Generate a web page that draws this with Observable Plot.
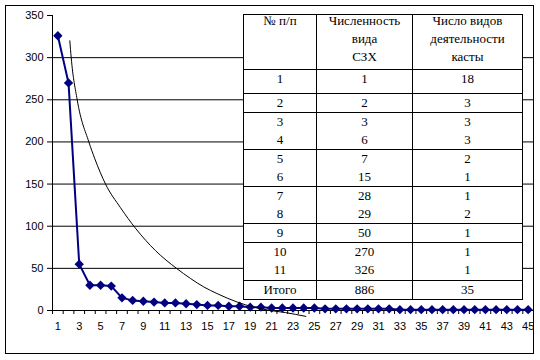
<!DOCTYPE html>
<html>
<head>
<meta charset="utf-8">
<script src="https://cdn.jsdelivr.net/npm/d3@7"></script>
<script src="https://cdn.jsdelivr.net/npm/@observablehq/plot@0.6"></script>
<style>
  html, body { margin: 0; padding: 0; background: white; }
  #wrap { position: absolute; left: 5px; top: 5px; width: 529px; height: 349px; box-sizing: border-box;
          border: 1px solid black; overflow: hidden; background: white; }
  #chart { position: absolute; left: -6px; top: -6px; width: 540px; height: 360px; }
  #chart svg { max-width: none !important; width: 540px; height: 360px; display: block; }
  #tbl { position: absolute; left: 243px; top: 14px; border-collapse: collapse; table-layout: fixed;
         background: white; font-family: "Liberation Serif", "Times New Roman", serif; font-size: 13px; color: black; }
  #tbl td { border: 1px solid black; padding: 0; text-align: center; vertical-align: top; line-height: 18px; }
  #tbl td.hd div { position: relative; top: -3px; }
</style>
</head>
<body>
<div id="wrap"><div id="chart"></div></div>
<table id="tbl"></table>
<script>
// ---- chart data ----
const categories = [1,2,3,4,5,6,7,8,9,10,11,12,13,14,15,16,17,18,19,20,21,22,23,24,25,26,27,28,29,30,31,32,33,34,35,36,37,38,39,40,41,42,43,44,45];
const values = [326,270,55,30,30,29,15,12,11,10,9,9,8,7,6,6,5,5,4,4,3,3,3,3,3,2,2,2,2,2,2,2,1,1,1,1,1,1,1,1,1,1,1,1,1];
const xTickLabels = [1,3,5,7,9,11,13,15,17,19,21,23,25,27,29,31,33,35,37,39,41,43,45];
const yTickLabels = [0,50,100,150,200,250,300,350];
const gridValues = [50,100,150,200,250,300];
// trend curve (category position, value)
const trendX = [2.12,2.25,2.81,3.9,4.46,5.46,6.86,8.3,10.14,12.1,13.41,14.65,15.91,17.78,19.33,20.9,22.3,24.2];
const trendY = [320,300,250,200,180,150,122,97,71,50,38,28,20,10,4,0,-2.5,-7];

// ---- table data ----
const headers = [["№ п/п"], ["Численность","вида","СЗХ"], ["Число видов","деятельности","касты"]];
const rowNums = ["1","2","3","4","5","6","7","8","9","10","11"];
const counts = [1,2,3,6,7,15,28,29,50,270,326];
const activities = [18,3,3,3,2,1,1,2,1,1,1];
const groups = [[0],[1],[2,3],[4,5],[6,7],[8],[9,10]];
const totalLabel = "Итого";
const totals = [886,35];

const data = categories.map((c,i) => ({c, v: values[i]}));
const trend = trendX.map((x,i) => ({x, y: trendY[i]}));
const boundaries = categories.map(c => c - 0.5).concat([categories[categories.length-1] + 0.5]);

const navy = "#000080";
const plot = Plot.plot({
  width: 540, height: 360,
  marginLeft: 52, marginRight: 7, marginTop: 15, marginBottom: 50,
  style: {fontFamily: "'Liberation Sans', Arial, sans-serif", fontSize: "11px", color: "black", background: "transparent"},
  x: {type: "linear", domain: [0.5, 45.5]},
  y: {domain: [0, 350]},
  marks: [
    Plot.ruleY(gridValues, {stroke: "black", strokeWidth: 1}),
    Plot.ruleY([0], {stroke: "black", strokeWidth: 1}),
    Plot.ruleX([0.5], {y1: 0, y2: 350, stroke: "black", strokeWidth: 1}),
    Plot.axisY({ticks: yTickLabels, tickSize: 5, tickPadding: 4, label: null, strokeOpacity: 1}),
    Plot.axisX({ticks: boundaries, tickSize: 4, tickFormat: () => "", label: null, strokeOpacity: 1}),
    Plot.axisX({ticks: xTickLabels, tickSize: 0, tickPadding: 12, tickFormat: d => String(d), label: null}),
    Plot.line(data, {x: "c", y: "v", stroke: navy, strokeWidth: 2}),
    Plot.dot(data, {x: "c", y: "v", symbol: "diamond2", r: 4.2, fill: navy, stroke: "none"}),
    Plot.line(trend, {x: "x", y: "y", stroke: "black", strokeWidth: 1, curve: "monotone-x"})
  ]
});
document.getElementById("chart").appendChild(plot);

// ---- table ----
const tbl = document.getElementById("tbl");
const colW = [73, 96, 110];
const cg = document.createElement("colgroup");
colW.forEach(w => { const c = document.createElement("col"); c.style.width = w + "px"; cg.appendChild(c); });
tbl.appendChild(cg);
const rowH = [48, 23, 18, 36, 36, 36, 17, 37, 18];
function addRow(cells, h, cls) {
  const tr = document.createElement("tr");
  tr.style.height = h + "px";
  cells.forEach(lines => {
    const td = document.createElement("td");
    td.style.height = h + "px";
    if (cls) td.className = cls;
    const div = document.createElement("div");
    div.innerHTML = lines.join("<br>");
    td.appendChild(div);
    tr.appendChild(td);
  });
  tbl.appendChild(tr);
}
addRow(headers, rowH[0], "hd");
groups.forEach((g, gi) => {
  addRow([g.map(i => rowNums[i]), g.map(i => String(counts[i])), g.map(i => String(activities[i]))], rowH[gi + 1]);
});
addRow([[totalLabel], [String(totals[0])], [String(totals[1])]], rowH[8]);
</script>
</body>
</html>
